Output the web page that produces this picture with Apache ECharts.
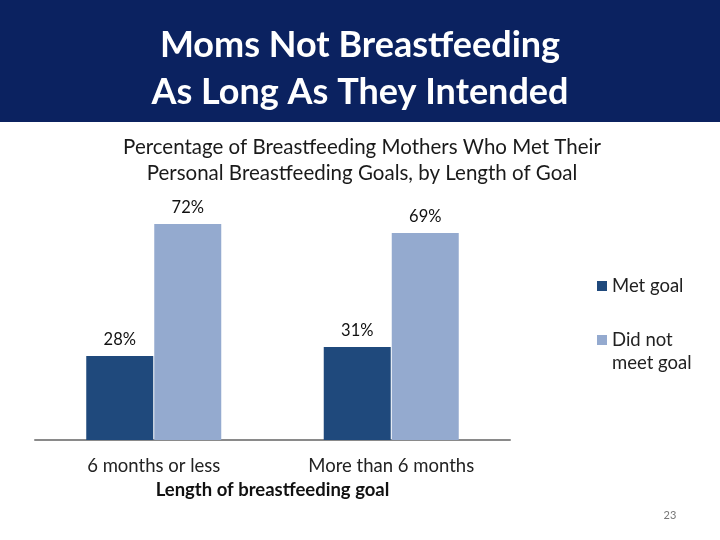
<!DOCTYPE html>
<html>
<head>
<meta charset="utf-8">
<script src="https://cdn.jsdelivr.net/npm/echarts@6/dist/echarts.min.js"></script>
<style>html,body{margin:0;padding:0;background:#fff}#c{width:720px;height:540px}</style>
</head>
<body>
<div id="c"></div>
<script>
const categories = ['6 months or less', 'More than 6 months'];
const seriesNames = ['Met goal', 'Did not meet goal'];
const metGoal = [28, 31];
const didNotMeetGoal = [72, 69];

const chart = echarts.init(document.getElementById('c'));
const F = 'Lato';
chart.setOption({
  animation: false,
  backgroundColor: '#fff',
  graphic: [
    { type: 'rect', shape: { x: 0, y: 0, width: 720, height: 122 }, style: { fill: '#0B2260' }, z: 0 },
    { type: 'text', x: 360, y: 45, style: { text: 'Moms Not Breastfeeding', fill: '#fff', font: 'bold 36px Lato', align: 'center', verticalAlign: 'middle' } },
    { type: 'text', x: 360, y: 92, style: { text: 'As Long As They Intended', fill: '#fff', font: 'bold 36px Lato', align: 'center', verticalAlign: 'middle' } },
    { type: 'text', x: 362, y: 147, style: { text: 'Percentage of Breastfeeding Mothers Who Met Their', fill: '#1a1a1a', font: '20.5px Lato', align: 'center', verticalAlign: 'middle' } },
    { type: 'text', x: 362, y: 173, style: { text: 'Personal Breastfeeding Goals, by Length of Goal', fill: '#1a1a1a', font: '20.5px Lato', align: 'center', verticalAlign: 'middle' } },
    { type: 'text', x: 670, y: 515, style: { text: '23', fill: '#777', font: '11px Lato', align: 'center', verticalAlign: 'middle' } }
  ],
  legend: [
    { data: [seriesNames[0]], orient: 'vertical', left: 597, top: 274.5, padding: 0, itemWidth: 10, itemHeight: 10,
      icon: 'rect', textStyle: { fontFamily: F, fontSize: 18.5, color: '#222', lineHeight: 23 } },
    { data: [seriesNames[1]], orient: 'vertical', left: 597, top: 328.5, padding: 0, itemWidth: 10, itemHeight: 33,
      icon: 'path://M0,0L10,0L10,10L0,10Z M0,33L0.01,33',
      formatter: function () { return 'Did not\nmeet goal'; },
      textStyle: { fontFamily: F, fontSize: 18.5, color: '#222', lineHeight: 23 } }
  ],
  grid: { left: 35, right: 210, top: 140, bottom: 100, containLabel: false },
  xAxis: {
    type: 'category', data: categories,
    axisLine: { lineStyle: { color: '#8a8a8a', width: 2 } },
    axisTick: { show: false },
    axisLabel: { fontFamily: F, fontSize: 18.5, color: '#222', margin: 17 },
    name: 'Length of breastfeeding goal', nameLocation: 'middle', nameGap: 41,
    nameTextStyle: { fontFamily: F, fontSize: 18.5, fontWeight: 'bold', color: '#111' }
  },
  yAxis: { type: 'value', min: 0, max: 100, show: false, splitLine: { show: false } },
  series: [
    { name: seriesNames[0], type: 'bar', data: metGoal, barWidth: 67, barGap: '1.5%',
      itemStyle: { color: '#1F497C' },
      label: { show: true, position: 'top', distance: 8, formatter: '{c}%', fontFamily: F, fontSize: 16.5, color: '#111' } },
    { name: seriesNames[1], type: 'bar', data: didNotMeetGoal, barWidth: 67,
      itemStyle: { color: '#94AACF' },
      label: { show: true, position: 'top', distance: 8, formatter: '{c}%', fontFamily: F, fontSize: 16.5, color: '#111' } }
  ]
});
</script>
</body>
</html>
